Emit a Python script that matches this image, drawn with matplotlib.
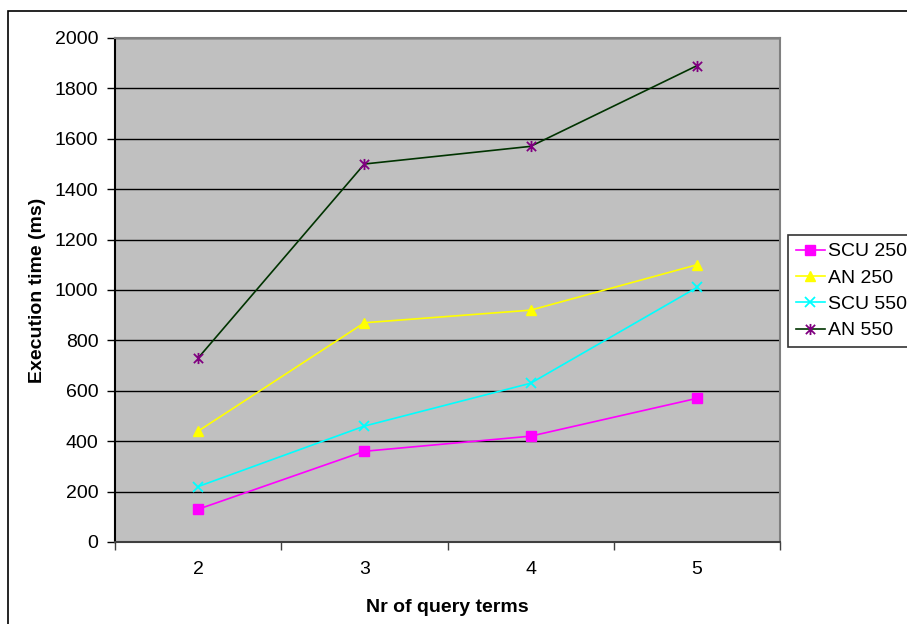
import matplotlib
matplotlib.use('Agg')
import matplotlib.pyplot as plt
from matplotlib.path import Path
from matplotlib.patches import Rectangle
from matplotlib.ticker import FixedLocator, NullFormatter

plt.rcParams['font.family'] = ['Liberation Sans', 'DejaVu Sans']

terms = [2, 3, 4, 5]
scu_250 = [130, 360, 420, 570]
an_250 = [440, 870, 920, 1100]
scu_550 = [220, 460, 630, 1010]
an_550 = [730, 1500, 1570, 1890]

# star marker: an x with a vertical stroke through it
star = Path(
    [(-1, -1), (1, 1), (-1, 1), (1, -1), (0, -1.2), (0, 1.2)],
    [Path.MOVETO, Path.LINETO, Path.MOVETO, Path.LINETO, Path.MOVETO, Path.LINETO],
)

W, H = 907, 624
FS = 14
fig = plt.figure(figsize=(W / 100, H / 100), dpi=100)
fig.patch.set_facecolor('white')

# outer chart border
fig.add_artist(Rectangle((8 / W, -0.05), 1.2, (H - 11) / H + 0.05,
                         transform=fig.transFigure, fill=False,
                         edgecolor='black', linewidth=1.2, clip_on=False))

ax = fig.add_axes([115 / W, (H - 542) / H, (780 - 115) / W, (542 - 38) / H])
ax.set_facecolor('#C0C0C0')

ax.plot(terms, scu_250, color='#FF00FF', marker='s', markersize=7, linewidth=1.2, label='SCU 250')
ax.plot(terms, an_250, color='#FFFF00', marker='^', markersize=7, linewidth=1.2, label='AN 250')
ax.plot(terms, scu_550, color='#00FFFF', marker='x', markersize=7, markeredgewidth=1.3, linewidth=1.2, label='SCU 550')
ax.plot(terms, an_550, color='#003300', marker=star, markersize=8, markeredgewidth=1.3,
        markeredgecolor='#800080', markerfacecolor='none', linewidth=1.2, label='AN 550')

ax.set_xlim(1.5, 5.5)
ax.set_ylim(0, 2000)
ax.set_yticks(range(0, 2001, 200))
ax.yaxis.grid(True, color='black', linewidth=1)
ax.set_axisbelow(True)

ax.xaxis.set_major_locator(FixedLocator([1.5, 2.5, 3.5, 4.5, 5.5]))
ax.xaxis.set_major_formatter(NullFormatter())
ax.xaxis.set_minor_locator(FixedLocator(terms))
ax.set_xticklabels([str(t) for t in terms], minor=True)
ax.tick_params(axis='x', which='minor', length=0, pad=14, labelsize=FS)
ax.tick_params(axis='x', which='major', direction='out', length=6, width=1, color='#404040')
ax.tick_params(axis='y', direction='out', length=6, width=1, labelsize=FS, pad=6)

ax.spines['top'].set_color('#808080')
ax.spines['right'].set_color('#808080')
ax.spines['left'].set_color('black')
ax.spines['bottom'].set_color('#404040')
for s in ax.spines.values():
    s.set_linewidth(1.5)

ax.set_xlabel('Nr of query terms', fontsize=FS, fontweight='bold', labelpad=15)
ax.set_ylabel('Execution time (ms)', fontsize=FS, fontweight='bold', labelpad=6)

leg = fig.legend(loc='upper left', bbox_to_anchor=(788 / W, (H - 235) / H),
                 bbox_transform=fig.transFigure, fontsize=FS, frameon=True,
                 fancybox=False, edgecolor='black', handlelength=1.5,
                 handletextpad=0.15, borderpad=0.4, labelspacing=0.45,
                 borderaxespad=0)
leg.get_frame().set_linewidth(1.2)

plt.savefig('out.png', dpi=100)
plt.close()
